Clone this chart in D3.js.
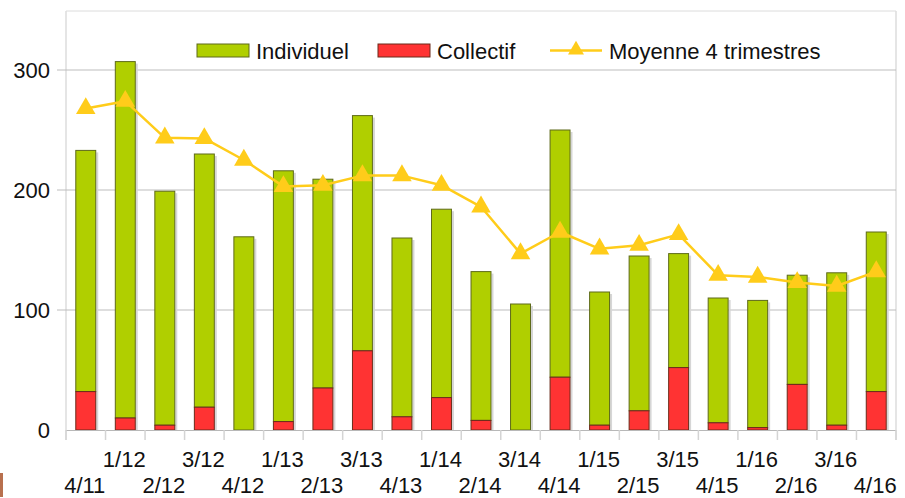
<!DOCTYPE html>
<html>
<head>
<meta charset="utf-8">
<script src="https://cdn.jsdelivr.net/npm/d3@7"></script>
<style>
  html, body { margin: 0; padding: 0; background: #fff; }
  svg { display: block; font-family: "Liberation Sans", Arial, sans-serif; }
</style>
</head>
<body>
<svg id="chart" width="905" height="498"></svg>
<script>
const categories = ["4/11","1/12","2/12","3/12","4/12","1/13","2/13","3/13","4/13","1/14","2/14","3/14","4/14","1/15","2/15","3/15","4/15","1/16","2/16","3/16","4/16"];
const collectif  = [32, 10, 4, 19, 0, 7, 35, 66, 11, 27, 8, 0, 44, 4, 16, 52, 6, 2, 38, 4, 32];
const individuel = [201, 297, 195, 211, 161, 209, 174, 196, 149, 157, 124, 105, 206, 111, 129, 95, 104, 106, 91, 127, 133];
const moyenne    = [268, 274, 243.5, 243, 225, 203, 204, 212, 212, 204, 186, 147, 165, 151, 154, 163, 129, 127.5, 123, 120, 132];
const yTicks = [0, 100, 200, 300];
const seriesNames = ["Individuel", "Collectif", "Moyenne 4 trimestres"];

(function () {
const colGreen = "#b0cf00", colRed = "#ff3333", colGold = "#ffcc1a";
const fs = 22;
const svg = d3.select("#chart");
const pL = 66, pR = 896, pT = 10, pB = 430;

const x = d3.scaleBand().domain(categories).range([pL, pR]).paddingInner(0.47).paddingOuter(0.235);
const y = d3.scaleLinear().domain([0, 350]).range([pB, pT]);
const step = x.step();

// frame
svg.append("line").attr("x1", pL).attr("x2", pR).attr("y1", pT + 1).attr("y2", pT + 1).attr("stroke", "#dcdcdc");
svg.append("line").attr("x1", pL).attr("x2", pL).attr("y1", pT + 1).attr("y2", pB + 10).attr("stroke", "#dcdcdc").attr("stroke-width", 1.5);
svg.append("line").attr("x1", pR).attr("x2", pR).attr("y1", pT + 1).attr("y2", pB + 10).attr("stroke", "#dcdcdc").attr("stroke-width", 1.5);

// gridlines
svg.append("g").selectAll("line").data(yTicks.filter(d => d > 0)).join("line")
  .attr("x1", pL - 9).attr("x2", pR).attr("y1", d => y(d)).attr("y2", d => y(d))
  .attr("stroke", "#bdbdbd").attr("stroke-width", 1);

// y labels
svg.append("g").selectAll("text").data(yTicks).join("text")
  .attr("x", 50).attr("y", d => y(d)).attr("dy", "0.36em").attr("text-anchor", "end")
  .attr("font-size", fs).attr("fill", "#111").text(d => d);

// bars
const stackData = categories.map((c, i) => ({ c, col: collectif[i], ind: individuel[i] }));
const bw = x.bandwidth();
const gBars = svg.append("g");
gBars.selectAll("rect.sh").data(stackData).join("rect").attr("class", "sh")
  .attr("x", d => x(d.c) + bw).attr("width", 2)
  .attr("y", d => y(d.col + d.ind) + 2).attr("height", d => y(0) - y(d.col + d.ind) - 2)
  .attr("fill", "#d6d6d6");
gBars.selectAll("rect.ind").data(stackData).join("rect").attr("class", "ind")
  .attr("x", d => x(d.c) + 0.5).attr("width", bw - 1)
  .attr("y", d => y(d.col + d.ind)).attr("height", d => y(d.col) - y(d.col + d.ind))
  .attr("fill", colGreen).attr("stroke", "#5e6a1a").attr("stroke-width", 1);
gBars.selectAll("rect.col").data(stackData.filter(d => d.col > 0)).join("rect").attr("class", "col")
  .attr("x", d => x(d.c) + 0.5).attr("width", bw - 1)
  .attr("y", d => y(d.col)).attr("height", d => y(0) - y(d.col))
  .attr("fill", colRed).attr("stroke", "#6a2a1a").attr("stroke-width", 1);

// x axis line and ticks
svg.append("line").attr("x1", pL).attr("x2", pR).attr("y1", pB + 0.5).attr("y2", pB + 0.5).attr("stroke", "#b8b8b8");
const bounds = d3.range(categories.length + 1).map(i => pL + i * step);
svg.append("g").selectAll("line").data(bounds).join("line")
  .attr("x1", d => d).attr("x2", d => d).attr("y1", pB).attr("y2", pB + 10)
  .attr("stroke", "#d4d4d4").attr("stroke-width", 1.5);

// x labels (staggered)
svg.append("g").selectAll("text").data(categories).join("text")
  .attr("x", d => x(d) + bw / 2 - 1)
  .attr("y", (d, i) => i % 2 === 0 ? 493 : 467)
  .attr("text-anchor", "middle").attr("font-size", fs).attr("fill", "#111").text(d => d);

// moving average line
const cx = i => x(categories[i]) + bw / 2;
const line = d3.line().x((d, i) => cx(i)).y(d => y(d));
svg.append("path").datum(moyenne).attr("d", line).attr("fill", "none")
  .attr("stroke", colGold).attr("stroke-width", 2.5).attr("stroke-linejoin", "round");
const tri = d3.symbol().type(d3.symbolTriangle).size(165);
svg.append("g").selectAll("path").data(moyenne).join("path")
  .attr("d", tri).attr("transform", (d, i) => `translate(${cx(i)},${y(d)})`)
  .attr("fill", colGold);

// legend
const lg = svg.append("g");
lg.append("rect").attr("x", 197).attr("y", 44).attr("width", 52).attr("height", 13)
  .attr("fill", colGreen).attr("stroke", "#5e6a1a");
lg.append("text").attr("x", 256).attr("y", 59).attr("font-size", fs).attr("fill", "#111").text(seriesNames[0]);
lg.append("rect").attr("x", 378).attr("y", 44).attr("width", 52).attr("height", 13)
  .attr("fill", colRed).attr("stroke", "#6a2a1a");
lg.append("text").attr("x", 437).attr("y", 59).attr("font-size", fs).attr("fill", "#111").text(seriesNames[1]);
lg.append("line").attr("x1", 550).attr("x2", 602).attr("y1", 50.5).attr("y2", 50.5)
  .attr("stroke", colGold).attr("stroke-width", 2.5);
lg.append("path").attr("d", d3.symbol().type(d3.symbolTriangle).size(110)).attr("transform", "translate(576,50)").attr("fill", colGold);
lg.append("text").attr("x", 609).attr("y", 59).attr("font-size", fs).attr("fill", "#111").text(seriesNames[2]);

// small brown mark bottom-left
svg.append("rect").attr("x", 0).attr("y", 473).attr("width", 3).attr("height", 24).attr("fill", "#b8704e");
})();
</script>
</body>
</html>
